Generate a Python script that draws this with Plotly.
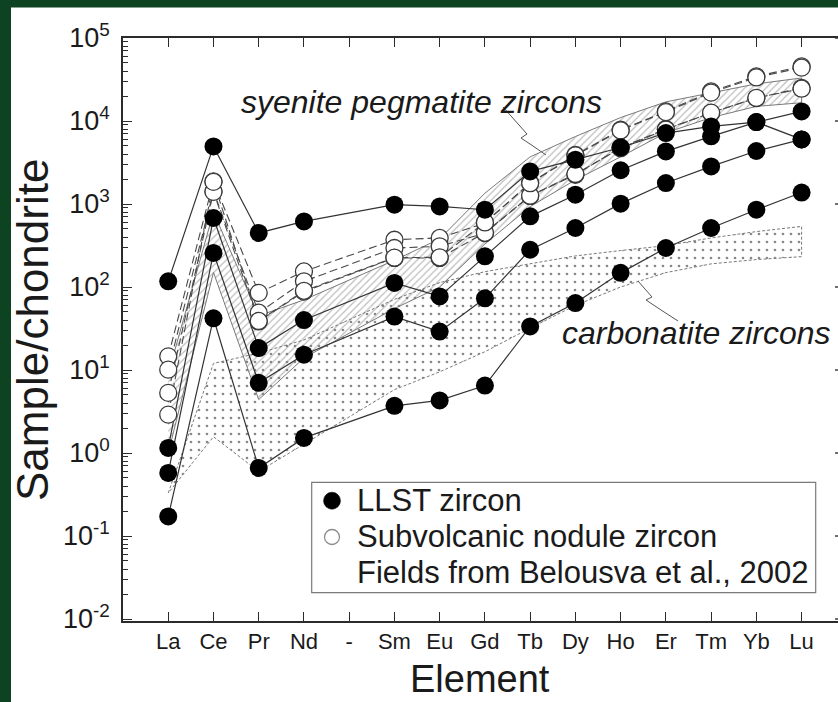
import plotly.graph_objects as go

# ---------------- data ----------------
elements = ["La", "Ce", "Pr", "Nd", "-", "Sm", "Eu", "Gd", "Tb", "Dy", "Ho", "Er", "Tm", "Yb", "Lu"]
ree = ["La", "Ce", "Pr", "Nd", "Sm", "Eu", "Gd", "Tb", "Dy", "Ho", "Er", "Tm", "Yb", "Lu"]

# LLST zircon (filled symbols)
llst_1 = [117, 4940, 448, 617, 981, 935, 853, 2470, 3420, 4800, 7160, 8600, 9700, 13060]
llst_2 = [1.15, 678, 18.4, 40, 112, 77, 234, 710, 1295, 2550, 4300, 6530, 9700, 6000]
llst_3 = [0.575, 257, 7.0, 15.3, 44, 29, 73, 281, 514, 1010, 1790, 2840, 4350, 6000]
llst_4 = [0.172, 42, 0.66, 1.52, 3.7, 4.3, 6.5, 33.5, 64, 148, 295, 514, 853, 1375]

# Subvolcanic nodule zircon (open symbols)
nodule_1 = [14.6, 1870, 85, 154, 371, 390, 590, 1800, 3900, 7860, 13060, 22700, 34500, 45500]
nodule_2 = [10.1, 1420, 49, 117, 295, 309, 447, 1250, 2250, 4800, 8000, 12500, 18900, 25000]
nodule_3 = [5.3, 1400, 38.5, 88, 224, 224, 450, 1260, 2300, 4700, 7900, 12600, 19000, 24500]
nodule_4 = [2.9, 1850, 39, 90, 226, 228, 600, 1780, 3850, 7700, 12800, 22000, 33500, 44000]

# Fields (Belousova et al., 2002)
syenite_upper = [9, 800, 45, 70, 210, 380, 1350, 3700, 6500, 11000, 17000, 22000, 28000, 33000]
syenite_lower = [1.0, 150, 4.4, 14, 55, 100, 330, 930, 1950, 3700, 7200, 11000, 15000, 16600]
carbonatite_upper = [0.33, 12, 16, 23, 71, 113, 153, 190, 237, 275, 315, 390, 465, 537]
carbonatite_lower = [0.33, 1.57, 0.6, 1.26, 5.8, 9.5, 16.6, 32, 60, 100, 149, 190, 214, 232]

y_tick_vals = [1e-2, 1e-1, 1e0, 1e1, 1e2, 1e3, 1e4, 1e5]
y_tick_text = ["10<sup>-2</sup>", "10<sup>-1</sup>", "10<sup>0</sup>", "10<sup>1</sup>",
               "10<sup>2</sup>", "10<sup>3</sup>", "10<sup>4</sup>", "10<sup>5</sup>"]
y_minor_vals = [m * d for d in y_tick_vals[:-1] for m in range(2, 10)]

legend_labels = ["LLST zircon", "Subvolcanic nodule zircon", "Fields from Belousva et al., 2002"]

# ---------------- layout geometry ----------------
W, H = 838, 702
ML, MR, MT, MB = 123, 0, 38, 81
PW, PH = W - ML - MR, H - MT - MB
YR = [-2.024, 5]

def px(xp):
    return (xp - ML) / PW

def py(yp):
    return (H - MB - yp) / PH

FONT = "Liberation Sans, Arial, Helvetica, sans-serif"
TXT = "#1a1a1a"

fig = go.Figure()

# fields
fig.add_trace(go.Scatter(
    x=ree + ree[::-1], y=carbonatite_upper + carbonatite_lower[::-1],
    mode="lines", fill="toself", fillcolor="rgba(255,255,255,0)",
    fillpattern=dict(shape=".", fgcolor="#111111", bgcolor="rgba(255,255,255,0)",
                     size=8, solidity=0.09),
    line=dict(color="#7a7a7a", width=1, dash="3px,2px"),
    showlegend=False, hoverinfo="skip"))
fig.add_trace(go.Scatter(
    x=ree + ree[::-1], y=syenite_upper + syenite_lower[::-1],
    mode="lines", fill="toself", fillcolor="rgba(255,255,255,0)",
    fillpattern=dict(shape="/", fgcolor="#7d7d7d", bgcolor="rgba(255,255,255,0)",
                     size=5, solidity=0.25),
    line=dict(color="#7a7a7a", width=1),
    showlegend=False, hoverinfo="skip"))

nodules = [nodule_1, nodule_2, nodule_3, nodule_4]
llsts = [llst_1, llst_2, llst_3, llst_4]

# connecting lines
for s in nodules:
    fig.add_trace(go.Scatter(x=ree, y=s, mode="lines",
                             line=dict(color="#4a4a4a", width=1.1, dash="8px,4px"),
                             showlegend=False, hoverinfo="skip"))
for s in llsts:
    fig.add_trace(go.Scatter(x=ree, y=s, mode="lines",
                             line=dict(color="#333333", width=1.2),
                             showlegend=False, hoverinfo="skip"))
# symbols
for s in nodules:
    fig.add_trace(go.Scatter(x=ree, y=s, mode="markers",
                             marker=dict(symbol="circle", size=17, color="white",
                                         line=dict(color="#3a3a3a", width=1.3)),
                             showlegend=False))
for s in llsts:
    fig.add_trace(go.Scatter(x=ree, y=s, mode="markers",
                             marker=dict(symbol="circle", size=18, color="black",
                                         line=dict(width=0)),
                             showlegend=False))

shapes = []
# dark green frame (top and left)
GREEN = "#0d4321"
shapes.append(dict(type="rect", xref="paper", yref="paper", layer="below",
                   x0=px(0), x1=px(11), y0=py(H), y1=py(0),
                   fillcolor=GREEN, line=dict(width=0)))
shapes.append(dict(type="rect", xref="paper", yref="paper", layer="below",
                   x0=px(0), x1=1.0, y0=py(7.5), y1=py(0),
                   fillcolor=GREEN, line=dict(width=0)))
# right-edge tick stubs (axis itself lies outside the picture)
for k in range(-2, 6):
    yy = (k - YR[0]) / (YR[1] - YR[0])
    shapes.append(dict(type="line", xref="paper", yref="paper",
                       x0=px(835), x1=1.0, y0=yy, y1=yy,
                       line=dict(color="#333333", width=1.4)))

def path(points):
    return "M " + " L ".join(f"{px(a):.5f},{py(b):.5f}" for a, b in points)

# leader lines
shapes.append(dict(type="path", xref="paper", yref="paper",
                   path=path([(503, 107), (527, 134), (521, 138), (533, 146), (546, 155)]),
                   line=dict(color="#555555", width=1)))
shapes.append(dict(type="path", xref="paper", yref="paper",
                   path=path([(638, 281), (652, 297), (646, 300), (661, 310), (678, 321)]),
                   line=dict(color="#555555", width=1)))

# legend box and symbols (drawn as layout decoration)
shapes.append(dict(type="rect", xref="paper", yref="paper", layer="above",
                   x0=px(311.7), x1=px(815.7), y0=py(592.7), y1=py(482.3),
                   fillcolor="white", line=dict(color="#7a7a7a", width=1.2)))
shapes.append(dict(type="circle", xref="paper", yref="paper", layer="above",
                   x0=px(332 - 8.5), x1=px(332 + 8.5), y0=py(500.7 + 8.5), y1=py(500.7 - 8.5),
                   fillcolor="black", line=dict(color="black", width=0.5)))
shapes.append(dict(type="circle", xref="paper", yref="paper", layer="above",
                   x0=px(332 - 7.5), x1=px(332 + 7.5), y0=py(537 + 7.5), y1=py(537 - 7.5),
                   fillcolor="white", line=dict(color="#8c8c8c", width=1.3)))

annotations = [
    dict(text="syenite pegmatite zircons", xref="paper", yref="paper",
         x=px(421.5), y=py(102), showarrow=False, xanchor="center", yanchor="middle",
         font=dict(family=FONT, size=32, color=TXT, style="italic")),
    dict(text="carbonatite zircons", xref="paper", yref="paper",
         x=px(696), y=py(333), showarrow=False, xanchor="center", yanchor="middle",
         font=dict(family=FONT, size=32, color=TXT, style="italic")),
    dict(text="Sample/chondrite", xref="paper", yref="paper", textangle=-90,
         x=px(32), y=py(330), showarrow=False, xanchor="center", yanchor="middle",
         font=dict(family=FONT, size=44, color=TXT)),
    dict(text="Element", xref="paper", yref="paper",
         x=px(480), y=py(679), showarrow=False, xanchor="center", yanchor="middle",
         font=dict(family=FONT, size=38, color=TXT)),
]
for label, yc in zip(legend_labels, [500, 536.5, 572]):
    annotations.append(dict(text=label, xref="paper", yref="paper",
                            x=px(355), y=py(yc), showarrow=False,
                            xanchor="left", yanchor="middle",
                            font=dict(family=FONT, size=31, color=TXT)))

fig.update_layout(
    width=W, height=H,
    margin=dict(l=ML, r=MR, t=MT, b=MB, pad=0),
    paper_bgcolor="white", plot_bgcolor="white",
    font=dict(family=FONT, color=TXT),
    shapes=shapes, annotations=annotations,
    showlegend=False,
)

fig.update_xaxes(type="category", categoryorder="array", categoryarray=elements,
                 range=[-1, -1 + PW / 45.24],
                 showline=True, linecolor="#2b2b2b", linewidth=1.6, mirror="ticks",
                 ticks="inside", ticklen=9, tickwidth=1.4, tickcolor="#2b2b2b",
                 tickfont=dict(family=FONT, size=22, color=TXT),
                 showgrid=False, zeroline=False)
fig.update_yaxes(type="log", range=YR,
                 tickmode="array", tickvals=y_tick_vals, ticktext=y_tick_text,
                 showline=True, linecolor="#2b2b2b", linewidth=1.6, mirror=False,
                 ticks="inside", ticklen=9, tickwidth=1.4, tickcolor="#2b2b2b",
                 minor=dict(ticks="inside", ticklen=5, tickwidth=1, tickcolor="#2b2b2b",
                            tickmode="array", tickvals=y_minor_vals, showgrid=False),
                 tickfont=dict(family=FONT, size=27, color=TXT),
                 ticklabelstandoff=6,
                 showgrid=False, zeroline=False)

fig.write_html("out.html")
